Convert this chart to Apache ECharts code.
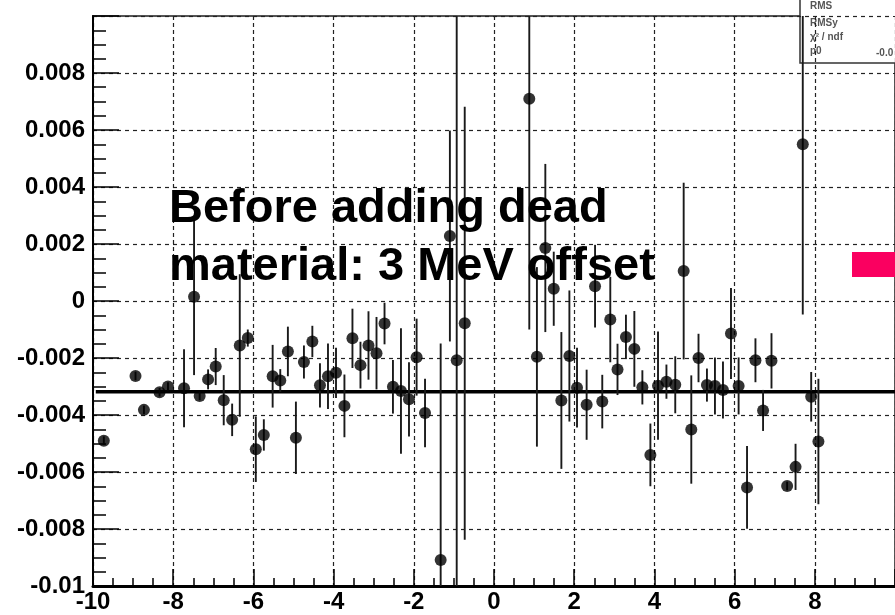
<!DOCTYPE html>
<html>
<head>
<meta charset="utf-8">
<script src="https://cdn.jsdelivr.net/npm/echarts@6/dist/echarts.min.js"></script>
<style>
  html, body { margin: 0; padding: 0; background: #fff; }
  #chart { width: 895px; height: 615px; }
</style>
</head>
<body>
<div id="chart"></div>
<script>
// bin centres, mean offset per bin and its error
const binCenters = [-9.73, -8.94, -8.73, -8.34, -8.13, -7.73, -7.48, -7.34, -7.13, -6.94,
  -6.74, -6.53, -6.34, -6.14, -5.94, -5.74, -5.52, -5.33, -5.14, -4.94,
  -4.74, -4.53, -4.34, -4.14, -3.94, -3.73, -3.53, -3.33, -3.13, -2.93,
  -2.73, -2.52, -2.32, -2.12, -1.93, -1.72, -1.33, -1.10, -0.93, -0.73,
  0.88, 1.07, 1.28, 1.49, 1.68, 1.88, 2.07, 2.31, 2.52, 2.70,
  2.90, 3.08, 3.29, 3.50, 3.70, 3.90, 4.09, 4.30, 4.52, 4.73,
  4.92, 5.10, 5.31, 5.51, 5.71, 5.91, 6.10, 6.31, 6.52, 6.71,
  6.92, 7.31, 7.52, 7.70, 7.91, 8.09];
const meanOffsets = [-0.00490, -0.00263, -0.00382, -0.00320, -0.00300, -0.00306, 0.00015, -0.00333, -0.00275, -0.00230,
  -0.00348, -0.00417, -0.00156, -0.00130, -0.00520, -0.00470, -0.00264, -0.00279, -0.00177, -0.00480,
  -0.00214, -0.00142, -0.00296, -0.00264, -0.00252, -0.00368, -0.00131, -0.00225, -0.00156, -0.00183,
  -0.00079, -0.00301, -0.00316, -0.00345, -0.00197, -0.00393, -0.00909, 0.00228, -0.00208, -0.00078,
  0.00710, -0.00196, 0.00186, 0.00043, -0.00349, -0.00193, -0.00304, -0.00364, 0.00052, -0.00353,
  -0.00065, -0.00240, -0.00126, -0.00168, -0.00303, -0.00540, -0.00297, -0.00283, -0.00294, 0.00105,
  -0.00451, -0.00200, -0.00295, -0.00298, -0.00312, -0.00114, -0.00298, -0.00654, -0.00208, -0.00384,
  -0.00210, -0.00649, -0.00582, 0.00550, -0.00336, -0.00493];
const offsetErrors = [0.00015, 0.00015, 0.00015, 0.00015, 0.00015, 0.00137, 0.00275, 0.00015, 0.00035, 0.00065,
  0.00088, 0.00057, 0.00250, 0.00030, 0.00115, 0.00055, 0.00110, 0.00040, 0.00087, 0.00127,
  0.00058, 0.00055, 0.00078, 0.00115, 0.00088, 0.00110, 0.00104, 0.00082, 0.00120, 0.00127,
  0.00073, 0.00094, 0.00220, 0.00130, 0.00135, 0.00120, 0.00760, 0.00370, 0.01300, 0.00760,
  0.00810, 0.00315, 0.00295, 0.00130, 0.00240, 0.00230, 0.00140, 0.00123, 0.00145, 0.00094,
  0.00150, 0.00090, 0.00078, 0.00133, 0.00060, 0.00110, 0.00190, 0.00060, 0.00100, 0.00310,
  0.00190, 0.00085, 0.00058, 0.00100, 0.00100, 0.00160, 0.00100, 0.00145, 0.00077, 0.00072,
  0.00097, 0.00015, 0.00081, 0.00597, 0.00087, 0.00220];
const fitP0 = -0.00318;
const xTicks = [-10, 10, 2];
const yTicks = [-0.01, 0.01, 0.002];

const chart = echarts.init(document.getElementById('chart'));

const pts = binCenters.map(function (x, i) { return [x, meanOffsets[i], offsetErrors[i]]; });
const labelFont = 'Liberation Sans, Arial, Helvetica, sans-serif';

const option = {
    backgroundColor: '#fff',
    animation: false,
    grid: {
        left: 93, top: 16, width: 831, height: 570,
        show: true, borderColor: '#555', borderWidth: 2, backgroundColor: '#fff'
    },
    xAxis: {
        type: 'value',
        min: xTicks[0], max: xTicks[1], interval: xTicks[2],
        axisLine: { show: true, onZero: false, lineStyle: { color: '#000', width: 3 } },
        axisTick: { show: true, inside: true, length: 17, lineStyle: { color: '#000', width: 1.5 } },
        minorTick: { show: true, splitNumber: 4, length: 8, lineStyle: { color: '#000', width: 1.5 } },
        splitLine: { show: true, lineStyle: { color: '#222', width: 1.2, type: [4, 3] } },
        axisLabel: {
            color: '#000', fontFamily: labelFont, fontWeight: 'bold', fontSize: 24, margin: 4,
            showMaxLabel: false
        }
    },
    yAxis: {
        type: 'value',
        min: yTicks[0], max: yTicks[1], interval: yTicks[2],
        axisLine: { show: true, onZero: false, lineStyle: { color: '#000', width: 2 } },
        axisTick: { show: true, inside: true, length: 26, lineStyle: { color: '#000', width: 1.5 } },
        minorTick: { show: true, splitNumber: 4, length: 13, lineStyle: { color: '#000', width: 1.5 } },
        splitLine: { show: true, lineStyle: { color: '#222', width: 1.2, type: [4, 4] } },
        axisLabel: {
            color: '#000', fontFamily: labelFont, fontWeight: 'bold', fontSize: 24, margin: 8,
            showMaxLabel: false,
            formatter: function (v) { return String(+v.toFixed(3)); }
        }
    },
    series: [
        {
            // flat fit
            type: 'line',
            data: [[-9.93, fitP0], [10, fitP0]],
            symbol: 'none',
            lineStyle: { color: '#000', width: 3.5 },
            z: 3
        },
        {
            // error bars
            type: 'custom',
            clip: true,
            data: pts,
            renderItem: function (params, api) {
                const x = api.value(0), y = api.value(1), e = api.value(2);
                const a = api.coord([x, y + e]);
                const b = api.coord([x, y - e]);
                return {
                    type: 'line',
                    shape: { x1: a[0], y1: a[1], x2: b[0], y2: b[1] },
                    style: { stroke: '#1a1a1a', lineWidth: 1.9 }
                };
            },
            z: 4
        },
        {
            type: 'scatter',
            data: pts,
            symbol: 'circle',
            symbolSize: 12,
            itemStyle: { color: '#000' },
            z: 5
        }
    ],
    graphic: [
        {
            type: 'text', left: 169, top: 180, z: 100,
            style: {
                text: 'Before adding dead\nmaterial: 3 MeV offset',
                font: 'bold 47px ' + labelFont,
                lineHeight: 58,
                fill: '#000'
            }
        },
        {
            type: 'rect', z: 100,
            shape: { x: 852, y: 252, width: 60, height: 25 },
            style: { fill: '#fa0060' }
        },
        {
            type: 'group', z: 100,
            children: [
                { type: 'rect', shape: { x: 800, y: -20, width: 120, height: 83 },
                  style: { fill: '#fff', stroke: '#333', lineWidth: 1.5 } },
                { type: 'text', x: 810, y: 1, style: { text: 'RMS', font: 'bold 10px ' + labelFont, fill: '#555' } },
                { type: 'text', x: 810, y: 18, style: { text: 'RMSy', font: 'bold 10px ' + labelFont, fill: '#555' } },
                { type: 'text', x: 810, y: 32, style: { text: '\u03c7\u00b2 / ndf', font: 'bold 10px ' + labelFont, fill: '#555' } },
                { type: 'text', x: 810, y: 46, style: { text: 'p0', font: 'bold 10px ' + labelFont, fill: '#555' } },
                { type: 'text', x: 876, y: 48, style: { text: '-0.0', font: 'bold 10px ' + labelFont, fill: '#555' } }
            ]
        }
    ]
};

chart.setOption(option);
</script>
</body>
</html>
